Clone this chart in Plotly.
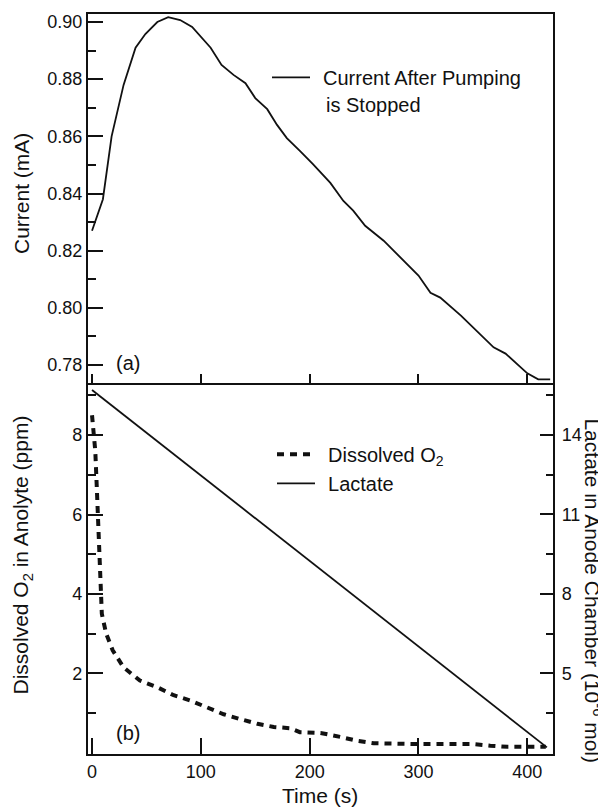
import plotly.graph_objects as go

# ---- data ----
t_current = [0, 10, 18, 29, 40, 49, 60, 70, 81, 92, 109, 119, 130, 141, 150, 161, 170,
             179, 191, 203, 219, 231, 240, 251, 268, 285, 300, 311, 320, 339, 355, 369,
             380, 390, 400, 410, 421]
current_mA = [0.827, 0.838, 0.860, 0.878, 0.891, 0.8958, 0.900, 0.9017, 0.9007, 0.8983,
              0.891, 0.885, 0.8815, 0.8786, 0.8734, 0.8695, 0.864, 0.8594, 0.8549, 0.8503,
              0.8437, 0.8374, 0.834, 0.8287, 0.8235, 0.8172, 0.8113, 0.8053, 0.8036, 0.7973,
              0.7914, 0.7862, 0.784, 0.7806, 0.7771, 0.775, 0.775]

t_o2 = [0, 3, 4.5, 6, 7.5, 9, 13, 19, 29, 44, 60, 75, 90, 106, 121, 136, 152, 167, 182,
        191, 210, 228, 244, 259, 280, 300, 320, 350, 366, 382, 400, 417]
o2_ppm = [8.5, 7.6, 6.6, 5.6, 4.5, 3.5, 3.0, 2.58, 2.15, 1.82, 1.65, 1.45, 1.32, 1.15, 0.97,
          0.85, 0.73, 0.65, 0.62, 0.52, 0.5, 0.4, 0.3, 0.24, 0.22, 0.22, 0.22, 0.22, 0.18,
          0.15, 0.15, 0.15]

t_lactate = [0, 418]
lactate_umol = [15.7, 2.2]

x_ticks = [0, 100, 200, 300, 400]
cur_ticks = [0.78, 0.80, 0.82, 0.84, 0.86, 0.88, 0.90]
cur_minor = [0.79, 0.81, 0.83, 0.85, 0.87, 0.89]
o2_ticks = [2, 4, 6, 8]
o2_minor = [1, 3, 5, 7, 9]
lac_ticks = [5, 8, 11, 14]
lac_minor = [3.5, 6.5, 9.5, 12.5, 15.5]

FONT = "Arial, Liberation Sans, Helvetica, sans-serif"
BLACK = "#111111"
GAP = "\u2009\u2009"

fig = go.Figure()
fig.add_trace(go.Scatter(x=t_current, y=current_mA, mode="lines",
                         line=dict(color=BLACK, width=1.8),
                         name=GAP + "Current After Pumping",
                         xaxis="x", yaxis="y", legend="legend"))
fig.add_trace(go.Scatter(x=t_o2, y=o2_ppm, mode="lines",
                         line=dict(color=BLACK, width=4, dash="7px,6px"),
                         name=GAP + "Dissolved O<sub>2</sub>",
                         xaxis="x2", yaxis="y2", legend="legend2"))
fig.add_trace(go.Scatter(x=t_lactate, y=lactate_umol, mode="lines",
                         line=dict(color=BLACK, width=1.8),
                         name=GAP + "Lactate",
                         xaxis="x2", yaxis="y3", legend="legend2"))

# page body has an 8px margin: the figure is drawn 8px right/down of the window corner
OFF = 8
L, R, T, B = 88, 553, 12, 754          # plot area in window pixels
W, H = 606 - OFF, 811 - OFF

xr = [-3.7, 423.6]
split = 0.5013
axcommon = dict(showline=True, linecolor=BLACK, linewidth=2.2, showgrid=False,
                zeroline=False, tickcolor=BLACK, tickwidth=2,
                tickfont=dict(family=FONT, size=18, color=BLACK))

def px_x(p):
    return (p - L) / (R - L)

def px_y(p):
    return (B - p) / (B - T)

fig.update_layout(
    width=W, height=H,
    margin=dict(l=L - OFF, r=606 - R, t=T - OFF, b=811 - B),
    paper_bgcolor="white", plot_bgcolor="white",
    font=dict(family=FONT, size=20, color=BLACK),
    xaxis=dict(domain=[0, 1], anchor="y", range=xr, tickvals=x_ticks,
               ticks="inside", ticklen=9, showticklabels=False, mirror=True, **axcommon),
    yaxis=dict(domain=[split, 1], anchor="x", range=[0.7737, 0.9028],
               tickvals=cur_ticks, ticktext=[f"{v:.2f}" for v in cur_ticks],
               ticks="inside", ticklen=15, mirror=True,
               minor=dict(tickvals=cur_minor, ticks="inside", ticklen=8,
                          tickcolor=BLACK, tickwidth=2),
               **axcommon),
    xaxis2=dict(domain=[0, 1], anchor="y2", range=xr, tickvals=x_ticks,
                ticks="inside", ticklen=16, **axcommon),
    xaxis3=dict(overlaying="x2", anchor="y2", side="top", range=xr, tickvals=x_ticks,
                ticks="inside", ticklen=10, showticklabels=False, showline=False,
                showgrid=False, zeroline=False, tickcolor=BLACK, tickwidth=2),
    yaxis2=dict(domain=[0, split], anchor="x2", range=[-0.03, 9.31],
                tickvals=o2_ticks, ticks="inside", ticklen=15,
                minor=dict(tickvals=o2_minor, ticks="inside", ticklen=8,
                           tickcolor=BLACK, tickwidth=2),
                **axcommon),
    yaxis3=dict(overlaying="y2", anchor="x2", side="right", range=[1.95, 15.96],
                tickvals=lac_ticks, ticks="inside", ticklen=13, ticklabelstandoff=3,
                minor=dict(tickvals=lac_minor, ticks="inside", ticklen=7,
                           tickcolor=BLACK, tickwidth=2),
                **axcommon),
    legend=dict(x=px_x(267), y=px_y(56), xanchor="left", yanchor="top",
                bgcolor="rgba(0,0,0,0)", borderwidth=0, itemwidth=38,
                font=dict(family=FONT, size=20, color=BLACK), tracegroupgap=0),
    legend2=dict(x=px_x(272), y=px_y(434), xanchor="left", yanchor="top",
                 bgcolor="rgba(0,0,0,0)", borderwidth=0, itemwidth=38,
                 font=dict(family=FONT, size=20, color=BLACK), tracegroupgap=0),
    showlegend=True,
)

annos = [
    dict(text="Current (mA)", x=px_x(21), y=px_y(192.5), textangle=-90, size=21),
    dict(text="Dissolved O<sub>2</sub> in Anolyte (ppm)", x=px_x(22), y=px_y(555),
         textangle=-90, size=21),
    dict(text="Lactate in Anode Chamber (10<sup>-6</sup> mol)", x=px_x(593), y=px_y(590),
         textangle=90, size=21),
    dict(text="Time (s)", x=px_x(320), y=px_y(796), textangle=0, size=21),
    dict(text="(a)", x=px_x(127.5), y=px_y(362), textangle=0, size=20),
    dict(text="(b)", x=px_x(127.5), y=px_y(733), textangle=0, size=20),
]
for a in annos:
    size = a.pop("size")
    fig.add_annotation(xref="paper", yref="paper", showarrow=False,
                       xanchor="center", yanchor="middle",
                       font=dict(family=FONT, size=size, color=BLACK), **a)

# second line of the top legend entry
fig.add_annotation(xref="paper", yref="paper", showarrow=False, text="is Stopped",
                   x=px_x(324), y=px_y(103), xanchor="left", yanchor="middle",
                   font=dict(family=FONT, size=20, color=BLACK))

fig.write_html("out.html")
